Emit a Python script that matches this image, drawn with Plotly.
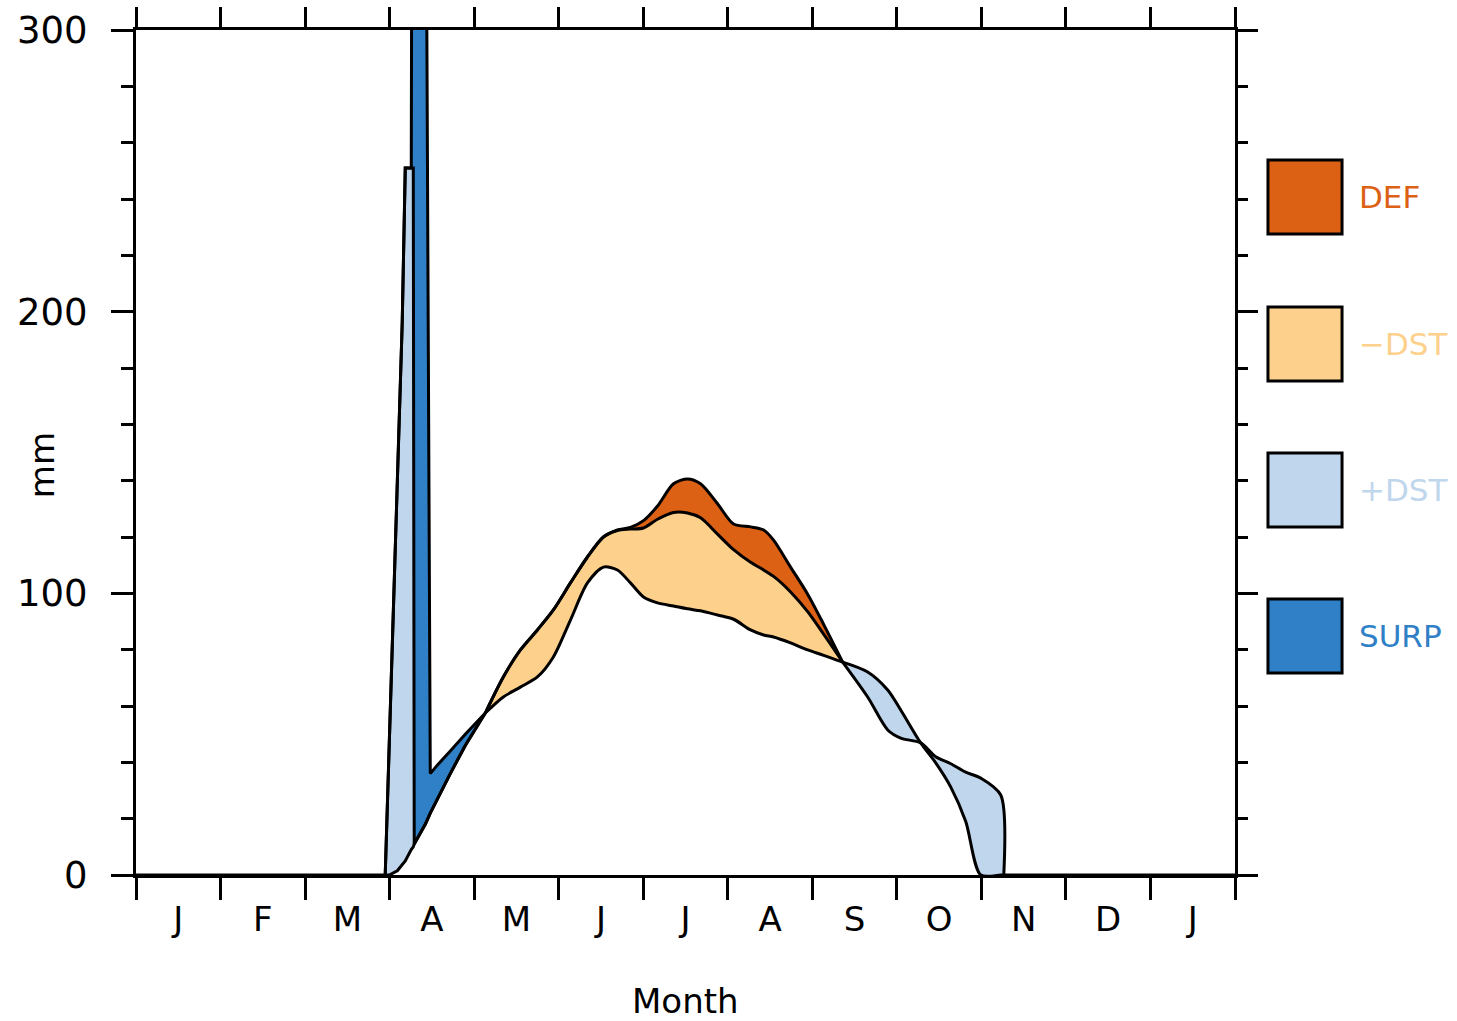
import plotly.graph_objects as go

# ---------------- data (x in months: 0 = start of Jan, 13 = end of next Jan) -------------
month_labels = ["J", "F", "M", "A", "M", "J", "J", "A", "S", "O", "N", "D", "J"]
month_bounds = list(range(14))
month_centers = [m + 0.5 for m in range(13)]

# winter (no water input, no PET)
winter1_x = [0.0, 2.948]
winter2_x = [10.265, 13.0]
winter_y = [0, 0]

# April snow-melt spike
apr_x   = [2.948, 2.996, 3.091, 3.149, 3.185, 3.256, 3.268, 3.280, 3.291, 3.422, 3.481, 3.564, 3.718, 3.895, 4.132]
apr_pet = [0, 0, 1.5, 3.5, 5, 9, 9.5, 10, 11, 18, 22, 27, 36, 46, 57.5]
apr_rch = [0, 46, 138, 196, 251, 251, 251, 251, 11, 18, 22, 27, 36, 46, 57.5]
apr_p   = [0, 46, 138, 196, 251, 251, 420, 420, 420, 420, 36, 39, 44, 50, 57.5]

# Growing season (deficit)
sum_x   = [4.132, 4.345, 4.547, 4.748, 4.937, 5.139, 5.340, 5.529, 5.695, 5.849, 6.003, 6.169,
           6.358, 6.524, 6.678, 6.879, 7.069, 7.270, 7.424, 7.542, 7.743, 7.945, 8.134, 8.359]
sum_p   = [57.5, 63.2, 66.7, 70.3, 77.4, 90.5, 103.7, 109.3, 108.3, 103.7, 98.7, 96.6,
           95.5, 94.5, 93.8, 92.3, 90.8, 87.0, 85.2, 84.5, 82.4, 79.9, 78.0, 75.6]
sum_aet = [57.5, 70.3, 79.9, 87.0, 94.1, 103.7, 112.9, 120.0, 122.3, 122.8, 123.2, 126.3,
           128.7, 128.5, 126.8, 121.0, 115.5, 111.0, 108.3, 106.0, 100.5, 93.5, 85.5, 75.6]
sum_pet = [57.5, 70.3, 79.9, 87.0, 94.1, 103.7, 112.9, 120.0, 122.5, 123.4, 125.8, 131.0,
           138.9, 140.6, 138.9, 131.8, 124.6, 123.6, 122.5, 118.9, 109.3, 99.7, 89.0, 75.6]

# Autumn (recharge)
aut_x   = [8.359, 8.655, 8.892, 9.046, 9.282, 9.460, 9.638, 9.815, 9.993, 10.229, 10.265]
aut_pet = [75.6, 72.1, 65.7, 58.6, 46.9, 39.8, 31.2, 19.0, 0, 0, 0]
aut_p   = [75.6, 63.2, 51.5, 48.6, 46.9, 42.0, 39.5, 36.5, 34.4, 28.4, 0]

# ---------------- styling -------------
C_DEF = "#dc6114"
C_MDST = "#fdd18b"
C_PDST = "#c0d6ec"
C_SURP = "#2f80c6"
LW = 3
SMOOTH = 0.8

fig = go.Figure()


def band(x, lower, upper, color, shape):
    fig.add_trace(go.Scatter(x=x, y=lower, mode="lines", line=dict(width=0, shape=shape, smoothing=SMOOTH),
                             showlegend=False, hoverinfo="skip"))
    fig.add_trace(go.Scatter(x=x, y=upper, mode="lines", fill="tonexty", fillcolor=color,
                             line=dict(width=0, shape=shape, smoothing=SMOOTH),
                             showlegend=False, hoverinfo="skip"))


def curve(x, y, shape):
    fig.add_trace(go.Scatter(x=x, y=y, mode="lines",
                             line=dict(color="black", width=LW, shape=shape, smoothing=SMOOTH),
                             showlegend=False, hoverinfo="skip"))


# fills
band(apr_x, apr_pet, apr_rch, C_PDST, "linear")
band(apr_x, apr_rch, apr_p, C_SURP, "linear")
band(sum_x, sum_p, sum_aet, C_MDST, "spline")
band(sum_x, sum_aet, sum_pet, C_DEF, "spline")
band(aut_x, aut_pet, aut_p, C_PDST, "spline")

# outlines
curve(winter1_x, winter_y, "linear")
curve(winter2_x, winter_y, "linear")
curve(apr_x, apr_pet, "linear")
curve(apr_x, apr_rch, "linear")
curve(apr_x, apr_p, "linear")
curve(sum_x, sum_p, "spline")
curve(sum_x, sum_aet, "spline")
curve(sum_x, sum_pet, "spline")
curve(aut_x, aut_pet, "spline")
curve(aut_x, aut_p, "spline")

# dummy trace for the mirrored (top / right) axes
fig.add_trace(go.Scatter(x=[0], y=[0], xaxis="x2", yaxis="y2", mode="markers",
                         marker=dict(opacity=0), showlegend=False, hoverinfo="skip"))

FONT = "DejaVu Sans, Liberation Sans, Arial"
MINOR_Y = [20, 40, 60, 80, 120, 140, 160, 180, 220, 240, 260, 280]

fig.update_layout(
    width=1457, height=1021,
    margin=dict(l=136, r=222, t=30, b=146, autoexpand=False),
    paper_bgcolor="white", plot_bgcolor="white",
    font=dict(family=FONT, color="black"),
    showlegend=False,
    xaxis=dict(range=[0, 13], showgrid=False, zeroline=False, automargin=False,
               showline=True, linecolor="black", linewidth=LW,
               tickmode="array", tickvals=month_centers, ticktext=month_labels,
               ticks="", ticklabelstandoff=12, tickfont=dict(size=34),
               minor=dict(tickmode="array", tickvals=month_bounds, ticks="outside",
                          ticklen=22, tickwidth=LW, tickcolor="black")),
    yaxis=dict(range=[0, 300], showgrid=False, zeroline=False, automargin=False,
               showline=True, linecolor="black", linewidth=LW,
               tickmode="array", tickvals=[0, 100, 200, 300], ticks="outside",
               ticklen=22, tickwidth=LW, tickcolor="black",
               ticklabelstandoff=16, tickfont=dict(size=37),
               minor=dict(tickmode="array", tickvals=MINOR_Y,
                          ticks="outside", ticklen=12, tickwidth=LW, tickcolor="black")),
    xaxis2=dict(range=[0, 13], overlaying="x", side="top", anchor="y", showgrid=False, zeroline=False,
                automargin=False, showline=True, linecolor="black", linewidth=LW,
                tickmode="array", tickvals=month_bounds, ticks="outside", ticklen=20,
                tickwidth=LW, tickcolor="black", showticklabels=False),
    yaxis2=dict(range=[0, 300], overlaying="y", side="right", anchor="x", showgrid=False, zeroline=False,
                automargin=False, showline=True, linecolor="black", linewidth=LW,
                tickmode="array", tickvals=[0, 100, 200, 300], ticks="outside", ticklen=20,
                tickwidth=LW, tickcolor="black", showticklabels=False,
                minor=dict(tickmode="array", tickvals=MINOR_Y,
                           ticks="outside", ticklen=10, tickwidth=LW, tickcolor="black")),
)

# axis titles
fig.add_annotation(text="Month", xref="paper", yref="paper", x=0.5, y=-0.149,
                   showarrow=False, font=dict(size=34, family=FONT, color="black"),
                   xanchor="center", yanchor="middle")
fig.add_annotation(text="mm", xref="paper", yref="paper", x=-0.0855, y=0.485, textangle=-90,
                   showarrow=False, font=dict(size=34, family=FONT, color="black"),
                   xanchor="center", yanchor="middle")

# legend (boxes + coloured labels)
legend_names = ["DEF", "\u2212DST", "+DST", "SURP"]
legend_colors = [C_DEF, C_MDST, C_PDST, C_SURP]
legend_top = [0.8462, 0.6722, 0.4994, 0.3266]
box_h = 0.0876
for name, col, top in zip(legend_names, legend_colors, legend_top):
    fig.add_shape(type="rect", xref="paper", yref="paper", x0=1.0300, x1=1.0974,
                  y0=top - box_h, y1=top, fillcolor=col, line=dict(color="black", width=LW))
    fig.add_annotation(text=name, xref="paper", yref="paper", x=1.1110, y=top - box_h / 2,
                       showarrow=False, xanchor="left", yanchor="middle",
                       font=dict(size=31, family=FONT, color=col))

# remove the browser's default 8px page margin so the figure fills the window exactly
fig.write_html("out.html", config={"displayModeBar": False},
               post_script="document.body.style.margin='0px';")
